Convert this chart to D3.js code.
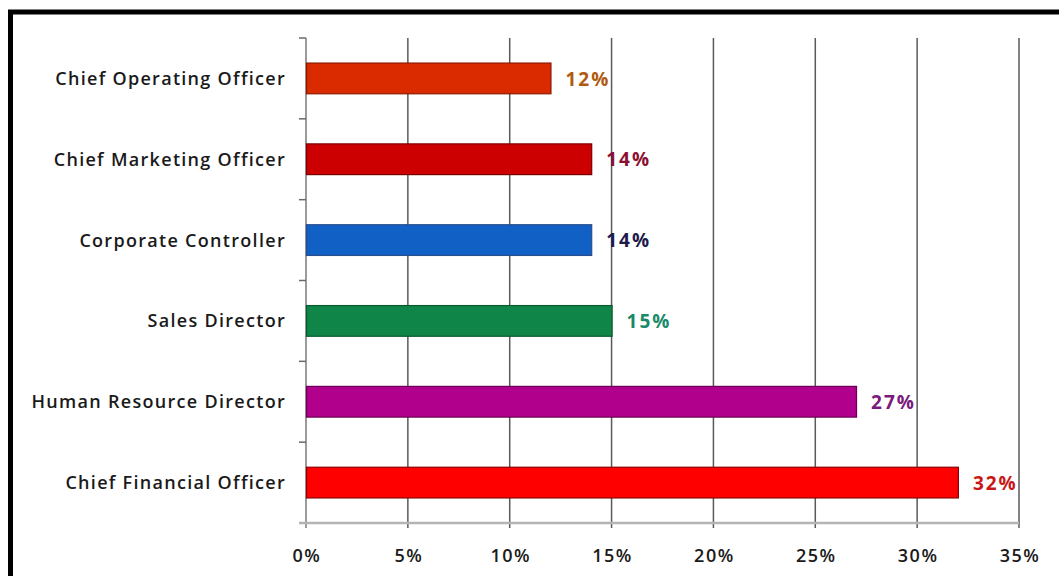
<!DOCTYPE html>
<html>
<head>
<meta charset="utf-8">
<script src="https://cdn.jsdelivr.net/npm/d3@7"></script>
<style>
  html, body { margin: 0; padding: 0; background: #fff; }
  svg { display: block; }
</style>
</head>
<body>
<svg id="chart" width="1059" height="576"></svg>
<script>
// Share of respondents by job title
const categories = [
  "Chief Operating Officer",
  "Chief Marketing Officer",
  "Corporate Controller",
  "Sales Director",
  "Human Resource Director",
  "Chief Financial Officer"
];
const values = [12, 14, 14, 15, 27, 32];
const barColors = ["#d92a00", "#cc0000", "#1060c6", "#0f8547", "#b0008c", "#ff0000"];
const barStrokes = ["#8a1a00", "#7a0000", "#2a4e8a", "#0a5a30", "#6a0055", "#8a0000"];
const labelColors = ["#b05a10", "#8a1030", "#201a4a", "#1a8a6a", "#7a1a7a", "#c81818"];
const xTicks = [0, 5, 10, 15, 20, 25, 30, 35];

const svg = d3.select("#chart");
const fontFamily = "'Open Sans', 'DejaVu Sans', sans-serif";

// Outer frame (thick black, running off the right and bottom edges)
svg.append("rect")
  .attr("x", 10.5).attr("y", 12)
  .attr("width", 1100).attr("height", 700)
  .attr("fill", "none")
  .attr("stroke", "#000")
  .attr("stroke-width", 5);

const plotLeft = 306, plotRight = 1019, plotTop = 38, plotBottom = 523;

const x = d3.scaleLinear().domain([0, 35]).range([plotLeft, plotRight]);
const y = d3.scaleBand().domain(categories).range([plotTop, plotBottom]).paddingInner(0.62).paddingOuter(0.31);

// Vertical gridlines
svg.append("g")
  .selectAll("line")
  .data(xTicks.slice(1))
  .join("line")
  .attr("x1", d => x(d)).attr("x2", d => x(d))
  .attr("y1", plotTop).attr("y2", plotBottom + 5)
  .attr("stroke", "#5a5a5a")
  .attr("stroke-width", 1.5);

// Category axis line with ticks between bands
svg.append("line")
  .attr("x1", plotLeft).attr("x2", plotLeft)
  .attr("y1", plotTop).attr("y2", plotBottom + 5)
  .attr("stroke", "#7a7a7a").attr("stroke-width", 1.5);

const bandEdges = d3.range(categories.length + 1).map(i => plotTop + i * (plotBottom - plotTop) / categories.length);
svg.append("g")
  .selectAll("line")
  .data(bandEdges)
  .join("line")
  .attr("x1", plotLeft - 7).attr("x2", plotLeft)
  .attr("y1", d => d).attr("y2", d => d)
  .attr("stroke", "#6a6a6a").attr("stroke-width", 1.5);

// Value axis baseline
svg.append("line")
  .attr("x1", plotLeft - 7).attr("x2", plotRight)
  .attr("y1", plotBottom).attr("y2", plotBottom)
  .attr("stroke", "#b4b4b4").attr("stroke-width", 2.5);

// Bars
svg.append("g")
  .selectAll("rect")
  .data(categories)
  .join("rect")
  .attr("x", x(0) + 0.5)
  .attr("y", d => y(d))
  .attr("width", (d, i) => x(values[i]) - x(0))
  .attr("height", y.bandwidth())
  .attr("fill", (d, i) => barColors[i])
  .attr("stroke", (d, i) => barStrokes[i])
  .attr("stroke-width", 1.2);

// Value labels
svg.append("g")
  .selectAll("text")
  .data(categories)
  .join("text")
  .attr("x", (d, i) => x(values[i]) + 15)
  .attr("y", d => y(d) + y.bandwidth() / 2)
  .attr("dy", "0.38em")
  .attr("fill", (d, i) => labelColors[i])
  .attr("font-family", fontFamily)
  .attr("font-weight", "bold")
  .attr("font-size", 19)
  .attr("letter-spacing", 2)
  .text((d, i) => values[i] + "%");

// Category labels
svg.append("g")
  .selectAll("text")
  .data(categories)
  .join("text")
  .attr("x", plotLeft - 20)
  .attr("y", d => y(d) + y.bandwidth() / 2)
  .attr("dy", "0.36em")
  .attr("text-anchor", "end")
  .attr("fill", "#1a1a1a")
  .attr("font-family", fontFamily)
  .attr("font-weight", 600)
  .attr("font-size", 18)
  .attr("letter-spacing", 1.3)
  .text(d => d);

// Value axis tick labels
svg.append("g")
  .selectAll("text")
  .data(xTicks)
  .join("text")
  .attr("x", d => x(d) + 1)
  .attr("y", 556)
  .attr("dy", "0.36em")
  .attr("text-anchor", "middle")
  .attr("fill", "#1a1a1a")
  .attr("font-family", fontFamily)
  .attr("font-weight", 600)
  .attr("font-size", 18)
  .attr("letter-spacing", 1.5)
  .text(d => d + "%");
</script>
</body>
</html>
